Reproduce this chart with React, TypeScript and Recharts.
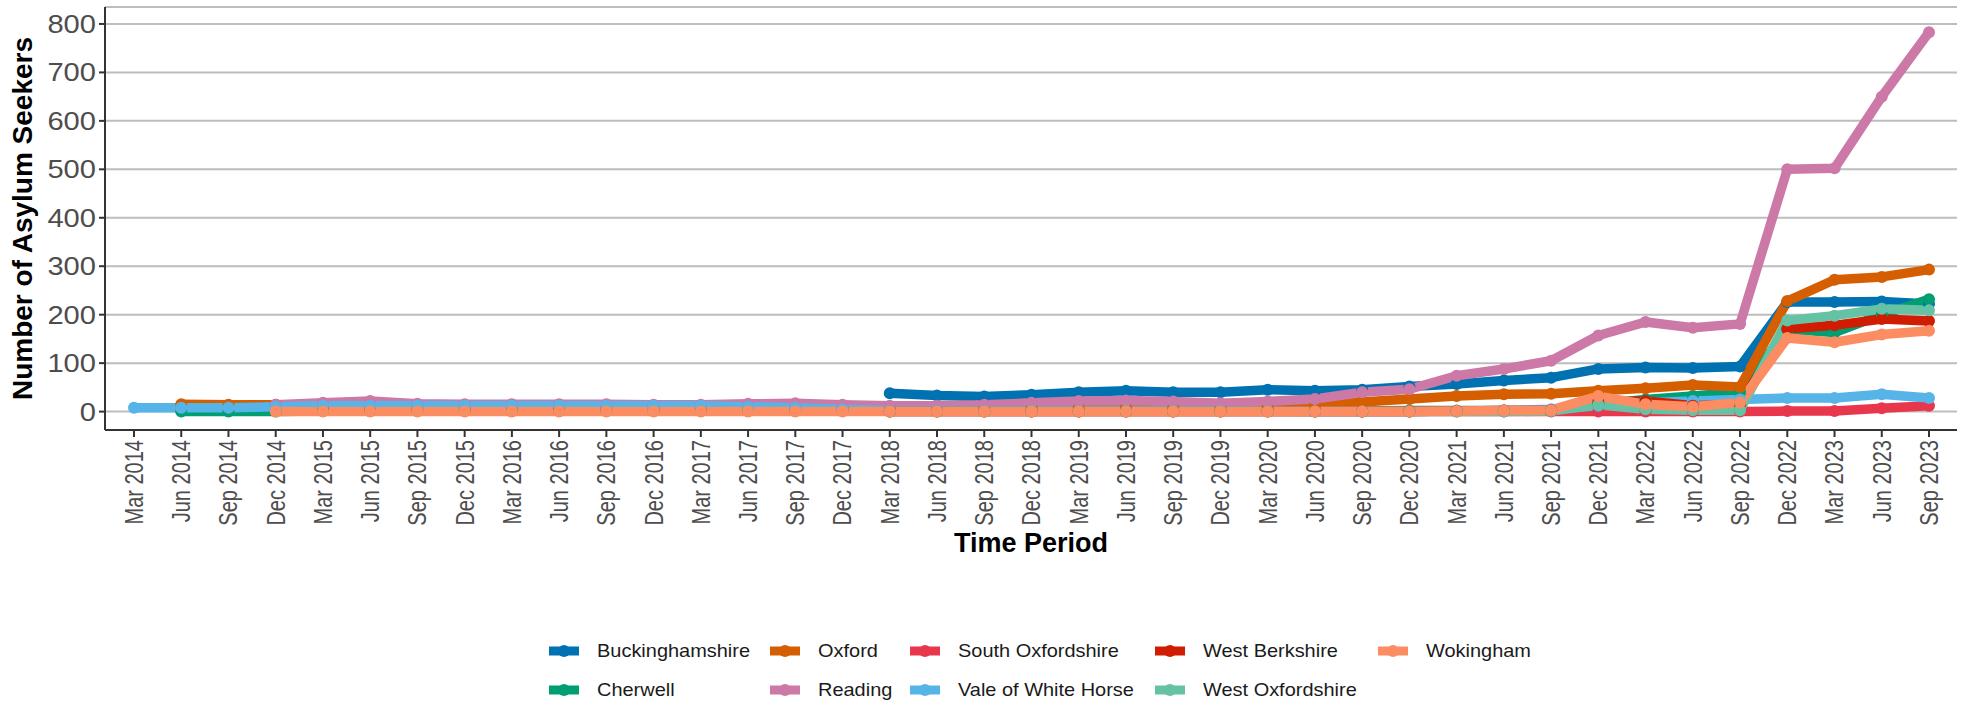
import { CartesianGrid, Line, LineChart, XAxis, YAxis } from "recharts"

const periods = [
  "Mar 2014", "Jun 2014", "Sep 2014", "Dec 2014",
  "Mar 2015", "Jun 2015", "Sep 2015", "Dec 2015",
  "Mar 2016", "Jun 2016", "Sep 2016", "Dec 2016",
  "Mar 2017", "Jun 2017", "Sep 2017", "Dec 2017",
  "Mar 2018", "Jun 2018", "Sep 2018", "Dec 2018",
  "Mar 2019", "Jun 2019", "Sep 2019", "Dec 2019",
  "Mar 2020", "Jun 2020", "Sep 2020", "Dec 2020",
  "Mar 2021", "Jun 2021", "Sep 2021", "Dec 2021",
  "Mar 2022", "Jun 2022", "Sep 2022", "Dec 2022",
  "Mar 2023", "Jun 2023", "Sep 2023",
]

const _ = null

// one value per period, null = no data yet
const buckinghamshire = [
  _, _, _, _, _, _, _, _, _, _, _, _, _, _, _, _,
  38, 33, 31, 35, 40, 43, 40, 40, 45, 43, 45, 52, 57, 64, 70, 88, 91, 90, 93, 226, 226, 227, 222,
]
const cherwell = [
  _, 0, 0, 0, 1, 1, 1, 1, 1, 1, 1, 1, 1, 1, 1, 1, 1, 1, 1, 1, 1, 1, 1, 1, 1, 1, 1, 2, 2, 2, 3,
  15, 25, 32, 40, 170, 163, 200, 232,
]
const oxford = [
  _, 15, 14, 14, 8, 8, 8, 8, 8, 8, 8, 8, 8, 8, 8, 8, 8, 8, 8, 8, 8, 8, 8, 8, 8, 12, 20, 26, 32, 36,
  37, 43, 48, 55, 51, 228, 272, 278, 293,
]
const reading = [
  _, _, _, 14, 18, 22, 16, 15, 15, 15, 15, 14, 14, 16, 17, 14, 12, 12, 14, 18, 22, 23, 21, 17, 21,
  26, 40, 46, 74, 88, 105, 157, 185, 173, 181, 500, 502, 650, 783,
]
const southOxfordshire = [
  _, _, _, _, _, _, _, _, _, _, _, _, _, _, _, _,
  0, 0, 0, 0, 0, 0, 0, 0, 0, 0, 0, 0, 0, 0, 0, 0, 0, 0, 0, 1, 1, 7, 12,
]
const valeOfWhiteHorse = [
  8, 8, 8, 10, 12, 12, 12, 12, 12, 12, 12, 12, 12, 10, 8, 5, 2, 2, 2, 2, 2, 2, 2, 2, 1, 0, 0, 0, 1,
  2, 5, 12, 18, 22, 25, 28, 28, 36, 28,
]
const westBerkshire = [
  _, _, _, _, _, _, _, _, _, _, _, _, _, _, _, _,
  0, 0, 0, 0, 0, 0, 0, 0, 0, 0, 0, 0, 1, 2, 3, 20, 22, 12, 15, 171, 178, 191, 187,
]
const westOxfordshire = [
  _, _, _, _, _, _, _, _, _, _, _, _, _, _, _, _,
  0, 0, 0, 0, 0, 0, 0, 0, 0, 0, 0, 0, 0, 0, 1, 14, 5, 3, 3, 188, 198, 212, 209,
]
const wokingham = [
  _, _, _, 0, 0, 0, 0, 0, 0, 0, 0, 0, 0, 0, 0, 0, 0, 0, 0, 0, 0, 0, 0, 0, 0, 0, 0, 0, 1, 2, 3,
  32, 15, 10, 19, 152, 143, 159, 167,
]

const yTicks = [0, 100, 200, 300, 400, 500, 600, 700, 800]

const series = [
  { key: "Buckinghamshire", values: buckinghamshire, color: "#0072B2" },
  { key: "Cherwell", values: cherwell, color: "#009E73" },
  { key: "Oxford", values: oxford, color: "#D55E00" },
  { key: "Reading", values: reading, color: "#CC79A7" },
  { key: "South Oxfordshire", values: southOxfordshire, color: "#E8374C" },
  { key: "Vale of White Horse", values: valeOfWhiteHorse, color: "#56B4E9" },
  { key: "West Berkshire", values: westBerkshire, color: "#D01C00" },
  { key: "West Oxfordshire", values: westOxfordshire, color: "#66C2A5" },
  { key: "Wokingham", values: wokingham, color: "#FC8D62" },
]

const data = periods.map((p, i) => {
  const row: Record<string, string | number | null> = { period: p }
  series.forEach((s) => (row[s.key] = s.values[i]))
  return row
})

// legend is filled column by column, two rows
const legendCols = [
  { left: 548, items: ["Buckinghamshire", "Cherwell"] },
  { left: 769, items: ["Oxford", "Reading"] },
  { left: 909, items: ["South Oxfordshire", "Vale of White Horse"] },
  { left: 1154, items: ["West Berkshire", "West Oxfordshire"] },
  { left: 1377, items: ["Wokingham"] },
]

const FONT = "'Liberation Sans', Arial, sans-serif"

const XTick = ({ x, y, payload }: any) => (
  <text
    transform={`translate(${x},${y + 1}) scale(1.28,1) rotate(-90)`}
    textAnchor="end"
    dominantBaseline="central"
    fontSize={20}
    fontFamily={FONT}
    fill="#4d4d4d"
  >
    {payload.value}
  </text>
)

const YTick = ({ x, y, payload }: any) => (
  <text
    transform={`translate(${x},${y}) scale(1.12,1)`}
    textAnchor="end"
    dominantBaseline="central"
    fontSize={26}
    fontFamily={FONT}
    fill="#4d4d4d"
  >
    {payload.value}
  </text>
)

function Legend() {
  return (
    <>
      {legendCols.map((col) =>
        col.items.map((name, r) => {
          const s = series.find((d) => d.key === name)!
          return (
            <div
              key={name}
              style={{
                position: "absolute",
                left: col.left,
                top: 651 + r * 39 - 12,
                height: 24,
                display: "flex",
                alignItems: "center",
                fontFamily: FONT,
                fontSize: 19,
                color: "#1a1a1a",
                whiteSpace: "nowrap",
              }}
            >
              <svg width={32} height={14} style={{ marginRight: 17 }}>
                <line x1={1} y1={7} x2={31} y2={7} stroke={s.color} strokeWidth={9} />
                <circle cx={16} cy={7} r={6} fill={s.color} />
              </svg>
              <span style={{ display: "inline-block", transform: "scaleX(1.05)", transformOrigin: "left" }}>
                {name}
              </span>
            </div>
          )
        })
      )}
    </>
  )
}

export default function App() {
  return (
    <div style={{ position: "absolute", left: 0, top: 0, width: 1968, height: 704, background: "#fff" }}>
      <LineChart
        width={1968}
        height={704}
        data={data}
        margin={{ top: 7, right: 11, left: 0, bottom: 144 }}
      >
        <CartesianGrid vertical={false} stroke="#bdbdbd" strokeWidth={2} />
        <XAxis
          dataKey="period"
          interval={0}
          height={130}
          padding={{ left: 29, right: 28 }}
          tick={<XTick />}
          tickSize={7}
          tickMargin={2}
          axisLine={{ stroke: "#333", strokeWidth: 2 }}
          tickLine={{ stroke: "#333", strokeWidth: 2 }}
          label={{
            value: "Time Period",
            position: "insideBottom",
            offset: 8,
            style: { fontFamily: FONT, fontSize: 27, fontWeight: 700, fill: "#000" },
          }}
        />
        <YAxis
          width={105}
          domain={[-38, 835]}
          ticks={yTicks}
          interval={0}
          tick={<YTick />}
          tickSize={6}
          tickMargin={3}
          axisLine={{ stroke: "#333", strokeWidth: 2 }}
          tickLine={{ stroke: "#333", strokeWidth: 2 }}
          label={{
            value: "Number of Asylum Seekers",
            angle: -90,
            position: "insideLeft",
            offset: 22,
            style: { fontFamily: FONT, fontSize: 28, fontWeight: 700, fill: "#000", textAnchor: "middle" },
          }}
        />
        {series.map((s) => (
          <Line
            key={s.key}
            dataKey={s.key}
            stroke={s.color}
            strokeWidth={9.5}
            strokeLinejoin="round"
            dot={{ r: 6, fill: s.color, stroke: s.color, strokeWidth: 0 }}
            activeDot={false}
            isAnimationActive={false}
          />
        ))}
      </LineChart>
      <Legend />
    </div>
  )
}
